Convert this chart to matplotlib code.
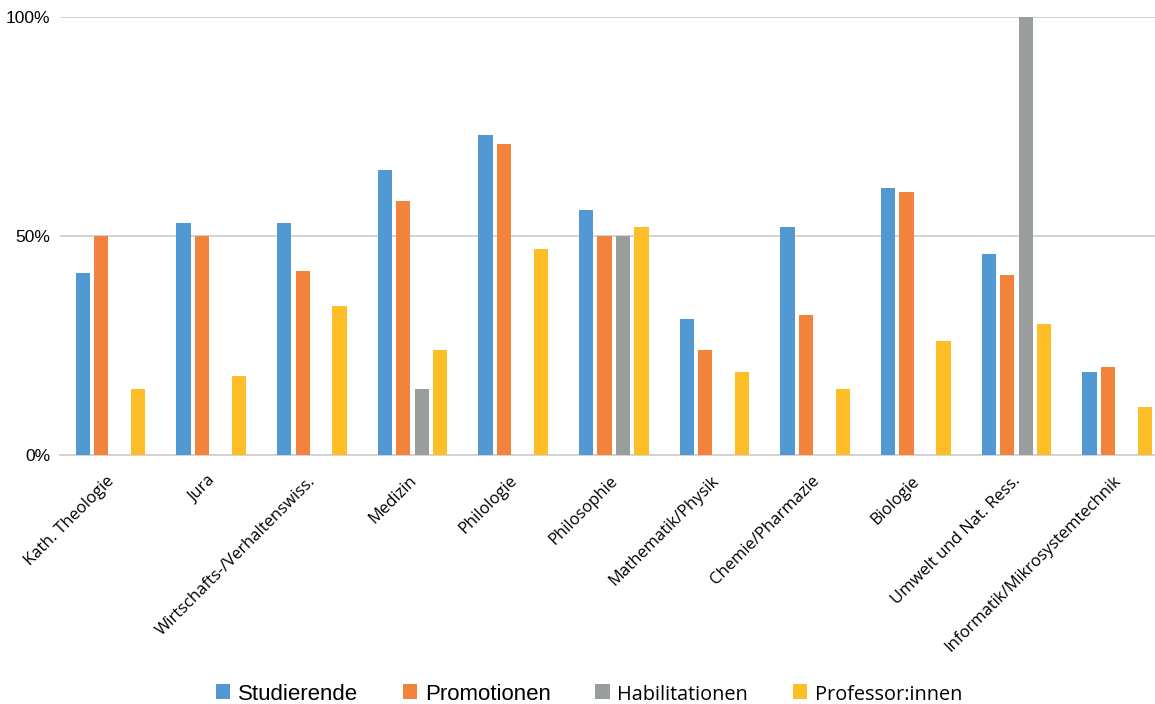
import matplotlib

matplotlib.use("Agg")
import matplotlib.pyplot as plt
import numpy as np
from matplotlib.patches import Patch
from matplotlib.transforms import ScaledTranslation

categories = [
    "Kath. Theologie",
    "Jura",
    "Wirtschafts-/Verhaltenswiss.",
    "Medizin",
    "Philologie",
    "Philosophie",
    "Mathematik/Physik",
    "Chemie/Pharmazie",
    "Biologie",
    "Umwelt und Nat. Ress.",
    "Informatik/Mikrosystemtechnik",
]
series_names = ["Studierende", "Promotionen", "Habilitationen", "Professor:innen"]

# Frauenanteil in Prozent (0 = kein Wert)
studierende = [41.6, 53, 53, 65, 73, 56, 31, 52, 61, 46, 19]
promotionen = [50, 50, 42, 58, 71, 50, 24, 32, 60, 41, 20]
habilitationen = [0, 0, 0, 15, 0, 50, 0, 0, 0, 100, 0]
professorinnen = [15, 18, 34, 24, 47, 52, 19, 15, 26, 30, 11]

colors = ["#5298D3", "#F2833D", "#9A9D9E", "#FEBE28"]
yticks = [0, 50, 100]
ytick_labels = ["0%", "50%", "100%"]

W, H = 1155, 704
fig = plt.figure(figsize=(W / 100, H / 100), dpi=100)
ax = fig.add_axes([60.2 / W, (H - 455) / H, 1107.3 / W, 438 / H])

x = np.arange(len(categories))
slot = 0.183
bar_w = 0.142
series = [studierende, promotionen, habilitationen, professorinnen]
for i, (vals, c) in enumerate(zip(series, colors)):
    ax.bar(x + (i - 1.5) * slot, vals, width=bar_w, color=c, linewidth=0, zorder=3)

ax.set_xlim(-0.5, len(categories) - 0.5)
ax.set_ylim(0, 100)
ax.set_yticks(yticks)
ax.set_yticklabels(ytick_labels, family="Liberation Sans", fontsize=12.5)
ax.yaxis.grid(True, color="#D0D0D0", linewidth=1.3, zorder=0)
ax.set_axisbelow(True)
for s in ["top", "right", "left"]:
    ax.spines[s].set_visible(False)
ax.spines["bottom"].set_color("#D0D0D0")
ax.spines["bottom"].set_linewidth(1.3)
ax.tick_params(axis="y", length=0, pad=7)
ax.tick_params(axis="x", length=0, pad=13)

ax.set_xticks(x)
ax.set_xticklabels(categories, rotation=45, ha="right", va="top",
                   rotation_mode="anchor", family="Open Sans", fontsize=12)
# shift the rotated labels a little to the left
for lbl in ax.get_xticklabels():
    lbl.set_transform(lbl.get_transform() + ScaledTranslation(-4 / 100, 0, fig.dpi_scale_trans))

handles = [Patch(facecolor=c, edgecolor="none") for c in colors]
leg = fig.legend(handles, series_names, loc="center", bbox_to_anchor=(589 / W, (H - 694) / H),
                 ncol=4, frameon=False, handlelength=0.65, handleheight=0.65,
                 handletextpad=0.35, columnspacing=2.0, prop={"family": "Liberation Sans", "size": 16})
for t in leg.get_texts()[2:]:
    t.set_family("Open Sans")
    t.set_fontsize(14.3)

fig.savefig("out.png", dpi=100, facecolor="white")
